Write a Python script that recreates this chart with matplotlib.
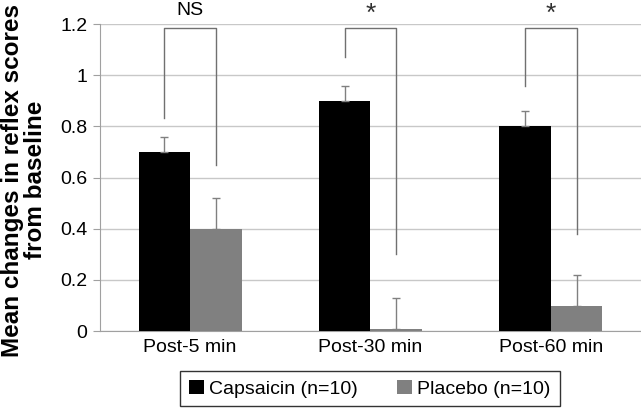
import matplotlib.pyplot as plt
import numpy as np

plt.rcParams['font.family'] = ['Liberation Sans', 'DejaVu Sans']

# Data
categories = ['Post-5 min', 'Post-30 min', 'Post-60 min']
capsaicin = [0.70, 0.90, 0.80]
capsaicin_err = [0.06, 0.06, 0.06]
placebo = [0.40, 0.01, 0.10]
placebo_err = [0.12, 0.12, 0.12]
sig_labels = ['NS', '*', '*']
bracket_top = [1.185, 1.185, 1.185]
bracket_left_end = [0.835, 1.07, 0.96]
bracket_right_end = [0.65, 0.30, 0.38]
yticks = [0, 0.2, 0.4, 0.6, 0.8, 1, 1.2]

fig = plt.figure(figsize=(6.41, 4.16), dpi=100)
ax = fig.add_axes([0.156, 0.204, 0.844, 0.738])

x = np.arange(len(categories))
w = 0.285
grey = '#808080'

ax.bar(x - w / 2, capsaicin, w, color='black', label='Capsaicin (n=10)', zorder=3)
ax.bar(x + w / 2, placebo, w, color=grey, label='Placebo (n=10)', zorder=3)
ax.errorbar(x - w / 2, capsaicin, yerr=[np.zeros(3), capsaicin_err], fmt='none',
            ecolor=grey, elinewidth=1, capsize=3, capthick=1, zorder=4)
ax.errorbar(x + w / 2, placebo, yerr=[np.zeros(3), placebo_err], fmt='none',
            ecolor=grey, elinewidth=1, capsize=3, capthick=1, zorder=4)

# significance brackets
for i in range(len(categories)):
    xl, xr = x[i] - w / 2, x[i] + w / 2
    ax.plot([xl, xl, xr, xr],
            [bracket_left_end[i], bracket_top[i], bracket_top[i], bracket_right_end[i]],
            color='#707070', lw=1, clip_on=False, zorder=5)
    if sig_labels[i] == 'NS':
        ax.text(x[i], bracket_top[i] + 0.035, sig_labels[i], ha='center', va='bottom',
                fontsize=14, clip_on=False)
    else:
        ax.text(x[i], bracket_top[i] + 0.01, sig_labels[i], ha='center', va='bottom',
                fontsize=19, color='#303030', clip_on=False)

ax.set_xlim(-0.5, 2.5)
ax.set_ylim(0, 1.2)
ax.set_yticks(yticks)
ax.set_yticklabels(['0', '0.2', '0.4', '0.6', '0.8', '1', '1.2'])
ax.set_xticks(x)
ax.set_xticklabels(categories)
ax.tick_params(axis='y', labelsize=14, length=5, color='#a0a0a0', pad=4)
ax.tick_params(axis='x', labelsize=14, length=0, pad=6)
ax.grid(axis='y', color='#c8c8c8', lw=1, zorder=0)
for side in ['top', 'right']:
    ax.spines[side].set_visible(False)
ax.spines['left'].set_color('#a0a0a0')
ax.spines['bottom'].set_color('#a0a0a0')

fig.text(0.037, 0.567, 'Mean changes in reflex scores\nfrom baseline', rotation=90,
         ha='center', va='center', fontsize=17.5, fontweight='bold', linespacing=1.0)

leg = fig.legend(loc='lower center', bbox_to_anchor=(0.577, 0.0), ncol=2,
                 fontsize=14, frameon=True, fancybox=False, edgecolor='black',
                 handlelength=0.75, handleheight=0.75, handletextpad=0.3,
                 columnspacing=2.0, borderpad=0.45)
leg.get_frame().set_linewidth(1)

fig.savefig('out.png', dpi=100)
